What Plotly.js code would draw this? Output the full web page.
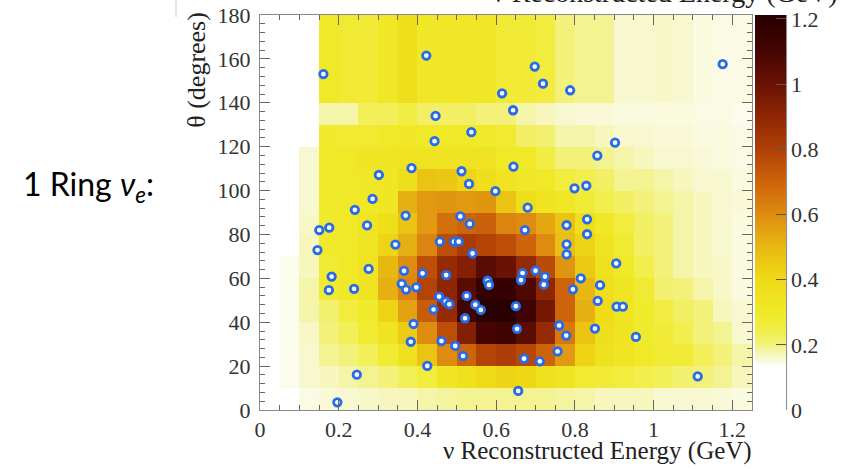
<!DOCTYPE html>
<html>
<head>
<meta charset="utf-8">
<script src="https://cdn.plot.ly/plotly-3.0.1.min.js"></script>
<style>
  html, body { margin: 0; padding: 0; background: #fff; }
  #chart { width: 841px; height: 469px; }
</style>
</head>
<body>
<div id="chart"></div>
<script>
// Bin edges
const energyEdges = [0,0.05,0.1,0.15,0.2,0.25,0.3,0.35,0.4,0.45,0.5,0.55,0.6,0.65,0.7,0.75,0.8,0.85,0.9,0.95,1.0,1.05,1.1,1.15,1.2,1.25];
const thetaEdges = [0,10,20,30,40,50,60,70,80,90,100,110,120,130,140,180];

// Histogram contents, one row per theta bin (bottom to top)
const row0  = [0,0,0.145,0.155,0.16,0.165,0.17,0.17,0.18,0.185,0.19,0.19,0.19,0.19,0.19,0.185,0.18,0.17,0.17,0.17,0.16,0.16,0.16,0.155,0.15];
const row1  = [0,0.14,0.16,0.17,0.18,0.19,0.2,0.23,0.26,0.32,0.36,0.4,0.42,0.41,0.36,0.33,0.28,0.27,0.26,0.24,0.23,0.21,0.2,0.19,0.17];
const row2  = [0,0.14,0.16,0.19,0.2,0.23,0.28,0.36,0.47,0.6,0.7,0.79,0.81,0.78,0.7,0.57,0.42,0.36,0.33,0.3,0.28,0.27,0.23,0.2,0.18];
const row3  = [0,0.14,0.165,0.2,0.23,0.28,0.34,0.44,0.6,0.76,0.93,1.1,1.12,1.04,0.88,0.65,0.47,0.38,0.34,0.29,0.27,0.24,0.2,0.19,0.16];
const row4  = [0,0.14,0.18,0.21,0.26,0.29,0.42,0.55,0.72,0.88,1.12,1.2,1.2,1.12,0.97,0.7,0.52,0.4,0.33,0.29,0.25,0.22,0.2,0.17,0.16];
const row5  = [0,0.14,0.18,0.28,0.3,0.34,0.52,0.62,0.79,0.9,1.05,1.16,1.16,1.08,0.9,0.7,0.5,0.38,0.33,0.28,0.21,0.2,0.18,0.165,0.15];
const row6  = [0,0.14,0.17,0.28,0.3,0.34,0.5,0.6,0.76,0.88,0.93,1.05,1.0,0.88,0.77,0.58,0.45,0.36,0.3,0.24,0.2,0.18,0.17,0.165,0.15];
const row7  = [0,0,0.17,0.29,0.3,0.33,0.42,0.52,0.62,0.76,0.82,0.79,0.76,0.7,0.6,0.48,0.42,0.34,0.28,0.22,0.2,0.18,0.17,0.16,0.15];
const row8  = [0,0,0.165,0.29,0.3,0.33,0.38,0.47,0.57,0.67,0.7,0.71,0.62,0.6,0.54,0.47,0.38,0.31,0.26,0.22,0.2,0.18,0.17,0.16,0.15];
const row9  = [0,0,0.16,0.3,0.3,0.31,0.32,0.52,0.57,0.58,0.57,0.58,0.47,0.38,0.34,0.31,0.27,0.24,0.22,0.2,0.19,0.18,0.17,0.16,0.155];
const row10 = [0,0,0.16,0.3,0.3,0.31,0.32,0.38,0.47,0.46,0.42,0.38,0.34,0.31,0.3,0.26,0.24,0.22,0.19,0.19,0.18,0.17,0.16,0.16,0.15];
const row11 = [0,0,0.16,0.3,0.3,0.32,0.33,0.34,0.34,0.34,0.34,0.34,0.3,0.3,0.25,0.2,0.2,0.19,0.18,0.17,0.16,0.16,0.155,0.15,0.145];
const row12 = [0,0,0,0.29,0.28,0.28,0.3,0.31,0.3,0.3,0.3,0.29,0.28,0.22,0.21,0.18,0.18,0.17,0.16,0.16,0.155,0.155,0.15,0.15,0.145];
const row13 = [0,0,0,0.18,0.18,0.23,0.23,0.25,0.22,0.22,0.22,0.2,0.2,0.18,0.17,0.16,0.155,0.155,0.15,0.15,0.15,0.15,0.145,0.145,0.14];
const row14 = [0,0,0,0.3,0.28,0.27,0.31,0.38,0.31,0.31,0.31,0.31,0.27,0.27,0.26,0.2,0.19,0.19,0.16,0.16,0.165,0.16,0.15,0.145,0.145];

// Observed events
const eventEnergy = [0.161,0.4225,0.615,0.643,0.446,0.537,0.4435,0.644,0.385,0.512,0.302,0.531,0.598,0.286,0.241,0.37,0.509,0.533,0.272,0.1506,0.176,0.68,0.673,
  0.698,0.719,0.788,0.902,0.857,0.799,0.829,0.779,0.831,0.831,1.1755,0.779,0.779,0.905,0.667,0.70,0.724,0.663,0.721,0.815,0.795,0.864,0.858,0.650,0.906,0.922,
  0.653,0.760,0.778,0.851,0.955,0.756,0.671,0.711,0.656,1.112,0.146,0.344,0.457,0.493,0.505,0.540,0.276,0.366,0.413,0.473,0.182,0.175,0.239,0.360,0.371,0.397,
  0.578,0.582,0.455,0.472,0.481,0.525,0.441,0.547,0.561,0.521,0.390,0.383,0.461,0.496,0.516,0.425,0.246,0.1965];
const eventTheta = [153.1,161.5,144.3,136.6,134,126.6,122.5,110.9,110.2,108.8,107.1,103,99.7,96.2,91.2,88.6,88.2,84.8,84.1,82,83.1,92.2,82,
  156.5,148.7,145.7,121.8,115.9,101,102.2,84.2,86.9,80.1,157.6,75.5,70.9,66.8,62.4,63.5,60.8,59.2,57.1,60,55,56.9,49.7,47.3,47.1,47.1,
  37,38.5,33.9,37.1,33.3,26.7,23.4,22.2,8.7,15.3,72.9,75.4,76.7,76.7,76.7,71.4,64.3,63.4,62.3,61.5,60.8,54.6,55.2,57.5,54.9,55.9,
  58.9,57,51.7,49.4,48.2,52,45.8,48,45.6,41.8,39.2,31.1,31.4,29.2,24.6,20.1,16.1,3.5];

// Axis / colorbar tick labels
const energyTicks = [0,0.2,0.4,0.6,0.8,1.0,1.2];
const energyTickText = ['0','0.2','0.4','0.6','0.8','1','1.2'];
const thetaTicks = [0,20,40,60,80,100,120,140,160,180];
const thetaTickText = ['0','20','40','60','80','100','120','140','160','180'];
const zTicks = [0,0.2,0.4,0.6,0.8,1.0,1.2];
const zTickText = ['0','0.2','0.4','0.6','0.8','1','1.2'];

const zMax = 1.212;
const stops = [
  [0, 'rgb(255,255,255)'], [0.139, 'rgb(255,255,255)'], [0.14, 'rgb(252,252,236)'],
  [0.16, 'rgb(248,248,208)'], [0.18, 'rgb(245,245,170)'], [0.2, 'rgb(243,241,122)'],
  [0.25, 'rgb(241,237,66)'], [0.3, 'rgb(240,233,40)'], [0.4, 'rgb(239,219,22)'],
  [0.5, 'rgb(232,184,18)'], [0.6, 'rgb(222,140,16)'], [0.7, 'rgb(205,100,10)'],
  [0.8, 'rgb(176,64,6)'], [0.9, 'rgb(142,38,4)'], [1.0, 'rgb(106,18,3)'],
  [1.1, 'rgb(70,5,2)'], [zMax, 'rgb(38,0,0)']
];
const colorscale = stops.map(s => [s[0] / zMax, s[1]]);

const SERIF = 'Liberation Serif, Times New Roman, Times, serif';
function tf() { return { family: SERIF, size: 22, color: '#333' }; }

const heat = {
  type: 'heatmap',
  x: energyEdges,
  y: thetaEdges,
  z: [row0,row1,row2,row3,row4,row5,row6,row7,row8,row9,row10,row11,row12,row13,row14],
  zmin: 0, zmax: zMax,
  colorscale: colorscale,
  zsmooth: false,
  hoverinfo: 'skip',
  colorbar: {
    x: (761 - 260) / 498, xanchor: 'left', xpad: 0,
    y: 0.5, yanchor: 'middle', ypad: 0,
    len: 1, lenmode: 'fraction',
    thickness: 31,
    outlinewidth: 0,
    tickmode: 'array', tickvals: zTicks, ticktext: zTickText,
    ticks: 'inside', ticklen: 10, tickcolor: '#555', tickwidth: 1,
    ticklabelstandoff: 4,
    tickfont: tf()
  }
};

const events = {
  type: 'scatter', mode: 'markers',
  x: eventEnergy, y: eventTheta,
  marker: { symbol: 'circle', size: 7.5, color: '#ffffff',
            line: { color: 'rgb(38,108,232)', width: 2.8 } },
  hoverinfo: 'skip'
};

function axisCommon() {
  return {
    showgrid: false, zeroline: false, showline: true,
    linecolor: '#888', linewidth: 1, mirror: 'ticks',
    ticks: 'inside', ticklen: 10, tickwidth: 1, tickcolor: '#666',
    tickfont: tf(), tickmode: 'array'
  };
}

const layout = {
  width: 841, height: 469,
  margin: { l: 260, r: 83, t: 15, b: 59, pad: 0 },
  paper_bgcolor: '#fff', plot_bgcolor: '#fff',
  showlegend: false,
  font: { family: SERIF, size: 22, color: '#333' },
  xaxis: Object.assign(axisCommon(), {
    range: [0, 1.25], tickvals: energyTicks, ticktext: energyTickText,
    minor: { dtick: 0.05, tick0: 0, ticks: 'inside', ticklen: 5, tickcolor: '#666', tickwidth: 1 }
  }),
  yaxis: Object.assign(axisCommon(), {
    range: [0, 180], tickvals: thetaTicks, ticktext: thetaTickText,
    ticklabelstandoff: 4,
    minor: { dtick: 4, tick0: 0, ticks: 'inside', ticklen: 5, tickcolor: '#666', tickwidth: 1 }
  }),
  annotations: [
    { xref: 'paper', yref: 'paper', x: 1.005, xanchor: 'right', y: (410 - 451) / 395, yanchor: 'middle',
      text: 'ν Reconstructed Energy (GeV)', showarrow: false, font: { family: SERIF, size: 25, color: '#222' } },
    { xref: 'paper', yref: 'paper', x: (196 - 260) / 498, xanchor: 'center', y: (410 - 10) / 395, yanchor: 'top',
      textangle: -90, text: 'θ (degrees)', showarrow: false, font: { family: SERIF, size: 26, color: '#222' } },
    { xref: 'paper', yref: 'paper', x: (847 - 260) / 498, xanchor: 'right', y: (410 + 7) / 395, yanchor: 'middle',
      text: 'ν Reconstructed Energy (GeV)', showarrow: false, font: { family: SERIF, size: 28, color: '#222' } },
    { xref: 'paper', yref: 'paper', x: (18 - 260) / 498, xanchor: 'left', y: (410 - 186) / 395, yanchor: 'middle',
      text: '1 Ring <i>ν</i><sub><i>e</i></sub>:', showarrow: false,
      font: { family: 'Lato', size: 32, color: '#000' } }
  ],
  shapes: [
    { type: 'line', xref: 'paper', yref: 'paper', x0: (793 - 260) / 498, x1: (793 - 260) / 498, y0: 0, y1: 1,
      line: { color: '#888', width: 1 } },
    { type: 'line', xref: 'paper', yref: 'paper', x0: (175 - 260) / 498, x1: (175 - 260) / 498,
      y0: (410 - 17) / 395, y1: (410 + 5) / 395, line: { color: '#ccc', width: 1 } }
  ]
};

Plotly.newPlot('chart', [heat, events], layout, { staticPlot: true, displayModeBar: false });
</script>
</body>
</html>
